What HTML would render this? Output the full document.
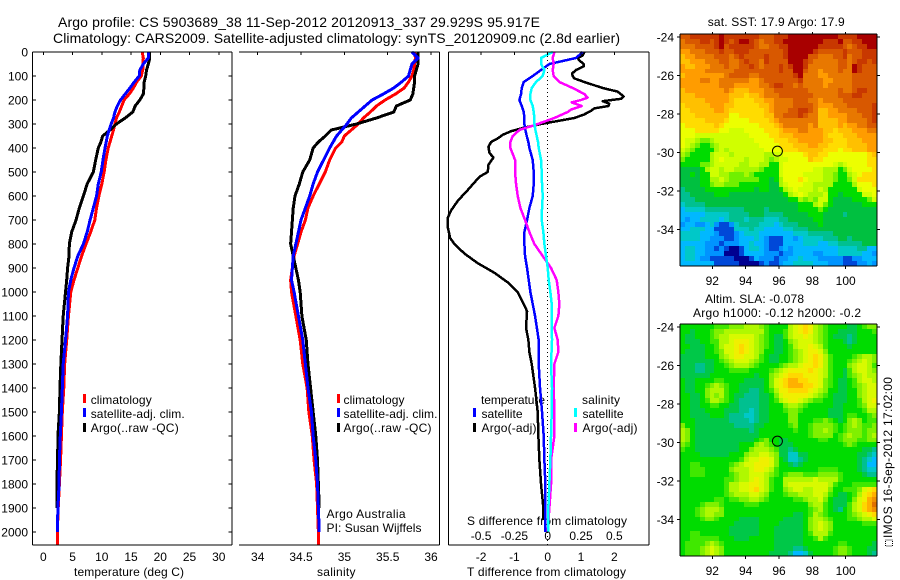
<!DOCTYPE html>
<html lang="en">
<head>
<meta charset="utf-8">
<title>Argo profile chart</title>
<style>
html,body{margin:0;padding:0;background:#fff;}
svg{display:block;}
text{font-family:"Liberation Sans",sans-serif;font-size:12px;fill:#000;}
.big{font-size:14px;}
</style>
</head>
<body>
<svg id="fig" xmlns="http://www.w3.org/2000/svg" width="900" height="580" viewBox="0 0 900 580">
<rect x="0" y="0" width="900" height="580" fill="#fff"/>
<text class="big" x="58" y="27" textLength="482" lengthAdjust="spacing">Argo profile: CS 5903689_38 11-Sep-2012 20120913_337 29.929S 95.917E</text>
<text class="big" x="53" y="43" textLength="567" lengthAdjust="spacing">Climatology: CARS2009. Satellite-adjusted climatology: synTS_20120909.nc (2.8d earlier)</text>

<text x="74" y="576" textLength="110" lengthAdjust="spacing">temperature (deg C)</text>
<text x="317" y="576" textLength="38.5" lengthAdjust="spacing">salinity</text>
<text x="467" y="576" textLength="159" lengthAdjust="spacing">T difference from climatology</text>
<text x="467" y="525" textLength="160" lengthAdjust="spacing">S difference from climatology</text>

<text x="90.7" y="404" textLength="61" lengthAdjust="spacing">climatology</text>
<text x="90.7" y="418" textLength="94" lengthAdjust="spacing">satellite-adj. clim.</text>
<text x="90.7" y="432" textLength="88" lengthAdjust="spacing">Argo(..raw -QC)</text>
<rect x="83" y="394" width="3" height="9" fill="#ff0000"/>
<rect x="83" y="408" width="3" height="9" fill="#0000ff"/>
<rect x="83" y="423" width="3" height="9" fill="#000"/>

<text x="343.5" y="404" textLength="61" lengthAdjust="spacing">climatology</text>
<text x="343.5" y="418" textLength="94" lengthAdjust="spacing">satellite-adj. clim.</text>
<text x="343.5" y="432" textLength="88" lengthAdjust="spacing">Argo(..raw -QC)</text>
<rect x="337" y="394" width="3" height="9" fill="#ff0000"/>
<rect x="337" y="408" width="3" height="9" fill="#0000ff"/>
<rect x="337" y="423" width="3" height="9" fill="#000"/>

<text x="326.5" y="518" textLength="79" lengthAdjust="spacing">Argo Australia</text>
<text x="326.5" y="532" textLength="95" lengthAdjust="spacing">PI: Susan Wijffels</text>

<text x="481" y="404" textLength="64" lengthAdjust="spacing">temperature</text>
<text x="481.5" y="418" textLength="41" lengthAdjust="spacing">satellite</text>
<text x="481.5" y="432" textLength="55" lengthAdjust="spacing">Argo(-adj)</text>
<rect x="473" y="408" width="3" height="9" fill="#0000ff"/>
<rect x="473" y="423" width="3" height="9" fill="#000"/>
<text x="582" y="404" textLength="38" lengthAdjust="spacing">salinity</text>
<text x="582.5" y="418" textLength="41" lengthAdjust="spacing">satellite</text>
<text x="582.5" y="432" textLength="55" lengthAdjust="spacing">Argo(-adj)</text>
<rect x="574" y="408" width="3" height="9" fill="#00ffff"/>
<rect x="574" y="423" width="3" height="9" fill="#ff00ff"/>

<text x="707.7" y="26" textLength="137" lengthAdjust="spacing">sat. SST: 17.9 Argo: 17.9</text>
<text x="705" y="303" textLength="99" lengthAdjust="spacing">Altim. SLA: -0.078</text>
<text x="693" y="317" textLength="168" lengthAdjust="spacing">Argo h1000: -0.12 h2000: -0.2</text>

<text transform="translate(892,538) rotate(-90)" textLength="161" lengthAdjust="spacing">IMOS 16-Sep-2012 17:02:00</text>
<rect x="885.5" y="540" width="7" height="6" fill="none" stroke="#000" stroke-width="1" stroke-dasharray="1 1"/>
</svg>

<script>
// ---------- Depth levels (m) ----------
const profileDepths = [0,25,50,75,100,125,150,175,200,225,250,275,300,325,350,375,400,450,500,550,600,650,700,750,800,850,900,950,1000,1100,1200,1300,1400,1500,1600,1700,1800,1900,2000,2054];
const diffDepths = [0,25,50,75,100,125,150,175,200,225,250,275,300,325,350,375,400,450,500,550,600,650,700,750,800,850,900,950,1000,1050,1100,1200,1300,1400,1500,1600,1700,1800,1900,2000];
const diffArgoSDepths = [0,25,50,75,100,125,150,175,190,200,210,225,240,250,275,300,325,350,375,400,425,450,500,550,600,650,700,750,800,850,900,950,1000,1050,1100,1150,1200,1250,1300,1400,1500,1600,1700,1800,1900,2000];
const diffArgoTDepths = [0,15,25,35,50,60,75,90,100,110,125,150,165,185,195,205,215,225,235,245,260,275,290,300,315,330,345,360,375,395,420,440,470,500,520,575,620,660,690,730,775,800,840,880,920,960,1000,1050,1080,1100,1150,1200,1250,1300,1400,1500,1600,1700,1800,1900,1950];

// ---------- Temperature profiles (deg C) ----------
const tempClimatology = [16.9,17.1,17.0,17.0,16.75,15.95,15.4,14.7,13.8,13.4,13.0,12.5,12.25,12.0,11.7,11.4,11.1,10.7,10.4,10.0,9.5,9.1,8.8,8.1,7.3,6.55,5.9,5.25,4.7,4.3,4.0,3.65,3.5,3.25,3.1,2.95,2.75,2.55,2.4,2.4];
const tempSatellite = [17.95,17.95,17.1,16.5,16.4,15.55,14.8,14.0,13.2,12.65,12.25,12.0,11.6,11.25,10.95,10.75,10.55,10.2,9.9,9.4,9.1,8.55,8.0,7.5,6.85,5.9,5.25,4.7,4.3,4.15,3.8,3.4,3.25,3.1,2.9,2.75,2.7,2.5,2.4];
const tempArgo = [18.1,18.2,17.95,17.65,17.5,17.25,17.2,17.1,16.5,15.7,15.3,14.0,12.5,11.4,10.15,9.85,9.4,8.95,8.55,7.5,6.85,6.15,5.6,4.85,4.45,4.4,4.15,4.0,3.8,3.4,3.2,3.0,2.85,2.75,2.5,2.45,2.3,2.3];

// ---------- Salinity profiles ----------
const salClimatology = [35.81,35.82,35.81,35.8,35.78,35.74,35.69,35.59,35.47,35.37,35.3,35.22,35.16,35.08,35.0,34.97,34.9,34.83,34.78,34.71,34.64,34.58,34.55,34.5,34.46,34.42,34.4,34.38,34.39,34.44,34.49,34.52,34.57,34.59,34.63,34.65,34.68,34.69,34.7,34.7];
const salSatellite = [35.78,35.85,35.78,35.76,35.74,35.66,35.57,35.45,35.32,35.24,35.16,35.08,35.03,34.97,34.91,34.87,34.83,34.76,34.69,34.64,34.6,34.55,34.5,34.47,34.44,34.41,34.4,34.39,34.42,34.47,34.52,34.55,34.58,34.62,34.64,34.67,34.69,34.7,34.71];
const salArgo = [35.85,35.85,35.85,35.83,35.81,35.81,35.8,35.79,35.76,35.6,35.57,35.37,35.14,34.85,34.78,34.7,34.64,34.6,34.52,34.48,34.43,34.41,34.4,34.39,34.38,34.41,34.44,34.47,34.49,34.51,34.56,34.58,34.61,34.64,34.67,34.69,34.7,34.71];

// ---------- Difference from climatology ----------
const diffTSatellite = [1.05,.85,.05,-.2,-.45,-.72,-.78,-.8,-.85,-.78,-.72,-.7,-.7,-.67,-.63,-.58,-.55,-.45,-.42,-.42,-.45,-.55,-.62,-.7,-.7,-.68,-.62,-.57,-.52,-.45,-.38,-.27,-.27,-.23,-.17,-.12,-.1,-.07,-.07,-.07];
const diffSSatellite = [.0375,-.05,-.05,-.025,-.0375,-.0875,-.12,-.13,-.13,-.1125,-.105,-.1,-.1,-.0925,-.0825,-.0725,-.0675,-.05,-.045,-.0425,-.0375,-.0425,-.045,-.0325,-.025,-.0125,0,.0075,.02,.03,.03,.0325,.025,.0325,.03,.025,.02,.0125,.005,.005];
const diffSArgo = [.05,.0375,.045,.0375,.045,.0875,.1875,.275,.3,.25,.18,.255,.175,.15,.05,-.075,-.2125,-.2625,-.28,-.28,-.2625,-.245,-.245,-.2375,-.225,-.205,-.17,-.1375,-.1,-.0375,.025,.0675,.08,.0875,.08,.05,.075,.08,.05,.045,.05,.05,.025,.025,.0125,0];
const diffTArgo = [1.1,1.05,.9,.95,1.08,1.08,.85,.73,.75,.8,1.1,1.65,2.1,2.28,2.2,1.65,1.85,1.82,1.4,1.3,1.1,.8,.2,-.2,-.7,-1.1,-1.35,-1.5,-1.7,-1.78,-1.75,-1.63,-1.78,-1.8,-2.05,-2.4,-2.7,-2.9,-3.0,-3.0,-2.93,-2.8,-2.5,-2.1,-1.6,-1.2,-.9,-.72,-.62,-.63,-.65,-.58,-.55,-.48,-.38,-.3,-.28,-.25,-.2,-.13,-.13];

// ---------- Tick labels ----------
const depthTicks = [0,100,200,300,400,500,600,700,800,900,1000,1100,1200,1300,1400,1500,1600,1700,1800,1900,2000];
const tempTicks = [0,5,10,15,20,25,30];
const salTicks = [34,34.5,35,35.5,36];
const diffTTicks = [-2,-1,0,1,2];
const diffSTicks = [-0.5,-0.25,0,0.25,0.5];
const lonTicks = [92,94,96,98,100];
const latTicks = [-24,-26,-28,-30,-32,-34];

// ---------- Argo position ----------
const argoLon = 95.917;
const argoLat = -29.929;

// ---------- Colour levels for the maps ----------
const sstColours = ['#000090','#0048d8','#0094ff','#00b8ff','#00c8c8','#00c090','#00c040','#00dc00','#70f000','#a8f800','#d0ff00','#ecff00','#ffdc00','#ffc000','#ff9c00','#e87800','#d85800','#c83800','#a80000'];
const slaColours = ['#000090','#0048d8','#0094ff','#00b8ff','#00c8c8','#00c090','#00c848','#00dc00','#40e800','#80f000','#b0f800','#d8fa00','#f0f000','#ffd800','#ffb000','#f09000','#e07000','#c83800','#a80000'];

// ---------- SST map (colour level per cell, north to south) ----------
const sstGrid = [
[16,16,17,17,17,17,17,17,18,17,17,17,17,17,17,17,16,16,16,17,17,17,18,18,18,18,18,18,18,18,18,18,17,17,17,17,18,18,18,18],
[15,16,16,16,17,17,16,17,18,17,16,17,18,18,17,16,15,16,16,17,17,18,18,18,18,18,18,18,18,17,17,17,18,16,16,17,17,18,18,18],
[15,15,15,16,16,16,16,17,18,16,17,17,17,17,17,16,15,15,16,16,17,17,18,18,18,18,18,18,17,17,17,17,17,16,15,16,17,17,18,18],
[14,14,15,15,15,16,16,16,17,16,16,17,17,17,16,16,16,16,16,16,16,17,18,18,18,18,18,17,16,16,16,16,16,17,16,16,16,17,17,17],
[13,14,14,15,15,15,15,16,16,16,15,16,17,16,16,16,16,17,16,16,16,17,18,18,18,18,16,16,15,15,15,16,16,17,15,16,16,17,17,17],
[13,13,14,14,14,15,15,15,16,16,15,15,16,17,16,16,15,17,16,16,16,16,18,18,18,17,16,15,15,15,15,15,16,16,15,16,17,17,16,17],
[14,13,13,14,14,14,15,15,15,16,15,15,16,16,17,16,15,16,16,16,17,16,17,18,18,17,15,15,15,15,15,15,16,16,15,18,17,16,16,16],
[14,14,14,14,14,15,15,15,15,15,15,16,16,16,16,16,16,16,16,16,17,16,16,18,18,16,15,15,14,15,15,15,16,15,15,18,17,16,16,16],
[13,14,14,14,14,14,14,14,14,15,16,16,16,16,15,15,16,16,16,16,16,16,16,17,18,15,15,15,14,14,15,15,15,15,15,16,16,16,16,16],
[14,14,14,14,15,15,14,14,15,15,15,15,15,15,14,14,15,16,16,16,16,16,16,16,17,15,15,15,15,14,14,15,15,15,15,16,16,16,16,16],
[14,14,14,14,14,14,14,14,15,15,15,14,14,14,14,14,15,15,16,17,17,16,16,15,16,15,15,15,15,14,15,15,15,15,15,16,16,16,16,16],
[13,14,14,14,14,14,14,14,14,15,14,13,13,13,14,14,14,15,15,16,16,16,16,16,16,16,15,15,15,15,15,15,16,15,15,16,17,17,16,16],
[13,13,13,14,14,14,14,14,14,14,13,13,13,12,13,13,14,15,15,15,16,16,16,16,16,16,16,15,15,15,15,15,16,16,16,17,17,16,16,16],
[13,13,13,13,13,14,14,14,14,14,13,12,12,12,12,13,13,14,14,15,15,15,15,16,16,16,15,15,14,15,15,15,15,16,16,16,16,16,16,16],
[12,13,13,13,13,13,14,14,14,13,13,12,12,12,12,12,13,13,14,15,15,15,15,16,16,16,16,15,14,14,14,15,15,15,16,16,16,16,16,17],
[12,12,13,13,13,13,13,14,14,13,12,12,12,12,12,12,12,13,14,15,15,15,16,16,17,17,16,15,13,13,14,14,15,15,15,15,16,16,16,17],
[12,12,12,13,13,13,13,13,13,13,11,11,12,12,12,12,12,13,13,15,15,16,16,16,17,16,15,15,13,13,14,14,14,14,15,15,15,16,16,17],
[12,12,12,12,12,13,13,13,13,12,11,11,11,11,12,12,12,12,13,14,15,15,15,15,15,15,15,15,13,13,13,13,14,14,15,15,15,15,16,17],
[11,12,12,12,12,12,12,13,12,11,11,11,11,11,11,11,12,12,12,13,14,15,15,15,15,15,14,15,13,13,13,13,14,13,14,14,15,15,16,16],
[11,11,11,12,12,12,12,12,11,11,10,10,10,11,11,11,11,12,12,12,13,14,14,14,15,15,14,14,14,13,13,12,13,13,13,14,14,14,15,15],
[11,11,11,10,10,10,10,10,10,10,10,10,10,10,11,11,11,11,12,12,13,13,13,14,14,14,14,14,14,13,12,12,12,13,13,13,14,14,14,14],
[11,10,10,9,8,8,9,10,10,10,10,10,10,10,10,11,11,11,11,12,12,12,13,13,14,14,14,14,14,13,13,12,12,12,13,13,13,14,14,14],
[11,10,9,8,7,7,8,9,10,10,10,10,10,10,10,10,11,11,11,11,12,12,12,13,13,13,14,14,13,13,12,12,12,12,13,13,13,13,14,14],
[10,9,8,7,7,7,7,9,10,9,10,10,10,10,10,10,10,11,11,11,11,12,12,12,13,13,13,13,13,12,12,12,11,12,12,13,13,13,14,14],
[9,8,7,7,7,7,9,10,10,10,9,10,10,10,10,10,10,9,9,10,10,11,11,11,11,12,13,13,12,12,11,11,11,11,11,11,11,11,12,13],
[8,7,7,7,7,7,9,10,11,10,10,10,10,9,10,10,10,9,8,9,10,10,11,11,11,11,13,12,12,11,11,11,11,11,11,11,11,11,12,12],
[7,7,7,7,8,8,9,10,10,10,10,10,9,9,10,10,9,9,7,7,10,11,11,11,11,11,11,11,11,11,11,10,9,10,11,11,11,11,12,12],
[6,6,6,6,7,9,10,10,9,10,10,9,9,9,9,9,8,7,7,7,10,11,11,11,11,11,11,10,10,9,9,9,7,8,10,11,11,11,11,12],
[6,6,7,6,7,7,10,10,9,9,8,8,8,9,8,7,7,7,7,7,10,11,11,11,11,10,10,10,10,9,9,8,7,7,9,10,11,12,12,12],
[6,6,6,6,7,7,9,9,10,9,8,8,8,8,8,8,7,7,6,7,9,11,11,11,12,11,10,10,10,9,9,8,7,7,8,10,12,12,12,12],
[6,6,6,6,7,7,8,9,9,8,8,8,7,7,7,7,7,7,6,6,9,10,11,11,11,10,10,9,9,9,9,7,7,7,7,9,11,11,11,12],
[5,6,6,6,6,7,7,7,7,7,7,7,7,7,7,6,7,7,6,6,7,9,10,11,10,10,10,9,10,9,7,7,7,7,7,7,10,11,11,11],
[5,5,6,6,6,6,6,7,7,7,6,6,6,6,6,6,6,6,6,6,6,7,9,10,11,10,9,9,9,10,7,7,6,7,7,7,7,10,10,11],
[5,5,5,6,6,6,6,6,6,6,6,6,6,6,6,6,6,6,6,6,6,6,7,7,9,8,9,8,10,10,7,6,6,6,6,7,7,7,8,10],
[4,5,5,5,5,6,6,6,6,6,6,6,6,6,6,6,6,6,6,6,6,6,6,6,7,7,7,9,10,8,7,6,6,6,6,6,6,7,7,7],
[3,4,4,4,4,5,5,5,5,5,5,5,5,6,6,6,6,5,6,6,6,6,6,6,7,7,7,7,8,7,6,6,6,6,6,6,6,6,6,6],
[3,3,3,3,3,4,4,4,4,4,5,5,5,5,6,6,6,5,5,5,5,6,6,6,6,6,7,7,7,6,6,6,6,5,6,6,6,6,6,6],
[3,2,3,3,4,4,4,4,3,4,5,5,5,4,5,5,5,4,4,4,5,5,6,6,6,6,6,7,7,6,6,6,6,6,6,6,6,6,6,6],
[2,3,3,2,2,3,4,2,1,1,2,4,5,5,5,5,4,4,4,3,4,5,5,5,6,6,6,6,7,6,6,6,6,6,6,6,6,6,6,6],
[3,3,4,4,4,3,3,1,1,1,1,4,4,4,5,4,4,3,3,3,3,4,4,5,5,5,6,6,6,6,6,6,6,6,6,6,6,6,6,6],
[4,4,4,4,3,3,3,2,1,1,1,2,3,4,4,4,3,3,3,3,3,3,3,4,4,4,5,5,5,5,5,6,6,6,6,6,6,6,6,6],
[4,4,4,4,3,3,2,2,2,1,1,2,3,3,3,4,3,2,1,1,1,3,3,2,3,4,4,4,4,5,5,5,6,6,5,6,6,6,6,6],
[3,3,3,3,3,2,2,2,1,2,2,2,3,3,4,3,3,2,1,1,1,3,3,3,3,4,4,4,3,3,4,4,5,5,5,5,5,6,6,6],
[3,4,4,3,3,2,2,1,2,1,0,0,1,3,4,4,3,2,1,1,2,3,2,3,3,3,3,3,3,3,3,3,4,4,4,4,5,5,3,3],
[3,4,4,3,3,2,2,2,2,0,0,0,1,3,3,3,3,2,2,2,1,2,2,3,3,3,3,2,2,3,3,3,4,4,4,4,4,3,3,2],
[3,4,4,3,2,2,1,1,1,1,1,0,0,0,1,3,2,2,2,1,2,2,3,3,4,3,3,3,2,2,2,2,2,1,1,2,2,3,3,3],
[3,3,3,3,3,3,3,1,1,1,1,1,0,0,0,0,1,2,1,1,2,3,3,4,4,4,4,3,3,3,2,2,2,1,1,1,2,2,3,2]
];

// ---------- Sea level anomaly map (colour level per cell, north to south) ----------
const slaGrid = [
[7,7,7,7,7,7,7,8,8,8,9,9,9,10,10,10,9,8,7,7,7,7,10,11,12,13,12,10,9,8,7,7,7,7,6,6,7,8,9,9],
[7,7,6,7,7,7,8,9,9,10,10,10,10,10,10,10,10,8,7,7,7,8,10,11,12,13,12,10,9,8,7,7,6,6,6,6,7,7,7,8],
[7,6,6,7,7,7,8,9,10,10,11,11,11,11,11,10,9,8,7,6,6,8,10,11,11,12,11,10,9,8,7,6,6,6,5,6,7,7,7,7],
[7,6,6,6,7,7,8,8,10,10,11,12,12,12,11,10,9,8,7,6,6,7,9,10,11,11,11,10,9,8,7,7,7,6,5,6,7,7,7,7],
[7,7,6,6,6,7,7,8,10,11,11,12,13,12,11,10,9,8,7,6,6,7,8,10,11,11,12,11,10,8,7,7,7,7,6,7,7,7,7,7],
[7,6,6,6,6,7,7,8,9,11,11,12,13,12,11,10,9,7,7,6,6,7,8,9,10,11,12,12,11,9,7,7,7,7,7,7,7,7,7,7],
[6,6,6,6,6,7,7,7,9,10,11,12,12,11,11,10,8,7,6,6,7,7,8,9,10,11,12,13,12,10,8,7,7,7,7,8,9,10,10,9],
[6,6,6,6,6,6,6,7,8,9,10,11,11,11,10,9,8,7,6,6,7,7,8,9,10,11,12,13,12,10,8,7,7,7,8,9,10,11,10,9],
[6,6,6,5,5,6,6,7,7,8,9,10,10,10,9,8,7,7,7,7,8,9,10,10,11,12,12,13,12,10,8,7,7,7,9,10,11,11,10,8],
[6,6,6,5,5,6,6,7,7,7,8,8,8,8,7,7,7,7,8,9,10,11,12,12,12,12,13,12,11,10,8,7,7,6,8,10,11,11,10,9],
[6,6,6,6,6,6,7,7,7,7,7,7,7,7,7,6,7,7,9,10,11,12,13,13,13,12,12,12,11,10,8,7,7,6,8,9,10,11,10,10],
[7,6,6,7,7,7,7,8,8,7,7,7,7,6,6,6,6,7,9,11,12,13,14,14,13,13,12,12,11,9,8,7,6,6,7,8,10,11,11,10],
[7,6,6,7,7,8,9,10,9,8,7,7,6,6,6,6,6,7,9,11,12,13,14,14,14,13,13,12,11,9,8,7,6,6,7,8,9,10,11,11],
[7,6,6,7,7,9,10,10,10,8,7,7,6,6,5,5,6,7,8,10,12,12,13,13,13,13,12,11,10,9,7,7,6,6,7,7,9,10,11,11],
[7,7,6,6,7,9,10,9,10,8,7,6,6,5,5,5,6,6,7,9,11,12,12,12,12,12,11,10,9,8,7,6,6,6,7,7,9,10,11,11],
[7,7,6,6,7,8,10,10,9,8,7,6,5,5,5,5,6,6,7,8,10,11,12,12,11,10,9,8,8,7,7,6,6,6,7,7,8,10,11,12],
[7,7,6,6,7,7,8,8,7,7,6,6,5,5,5,5,6,6,7,7,7,9,10,10,9,8,7,7,7,7,7,6,6,7,7,7,8,9,11,11],
[7,7,6,6,6,7,7,7,7,6,6,6,5,5,4,5,6,6,7,7,7,8,9,9,8,7,7,7,7,7,6,6,6,7,7,7,7,8,10,10],
[7,7,6,6,6,6,7,7,7,6,5,5,5,4,4,5,6,6,7,7,7,7,9,9,7,7,7,7,7,7,6,6,6,7,8,8,7,7,8,9],
[7,7,7,6,6,6,6,6,6,6,5,5,5,5,4,5,6,6,7,7,7,7,9,9,7,7,7,8,8,9,8,7,6,7,9,10,9,7,8,8],
[9,7,7,6,6,6,6,6,6,6,6,5,5,5,5,6,6,7,7,7,7,7,8,9,7,7,8,9,9,9,9,8,7,8,9,10,9,8,8,9],
[10,9,7,6,6,6,6,6,6,6,6,6,6,6,5,6,7,7,7,7,7,7,7,8,7,7,8,9,9,10,9,8,7,8,9,9,9,8,9,9],
[10,9,7,6,6,6,6,6,6,6,6,6,6,6,6,6,7,7,7,7,7,7,7,7,7,7,8,9,9,9,9,7,8,9,10,9,9,8,9,10],
[10,9,7,6,6,6,6,6,6,6,6,6,6,6,6,7,8,9,7,7,6,6,7,7,7,7,7,7,8,8,7,7,8,9,9,9,8,8,9,9],
[9,8,7,6,6,6,6,6,6,6,6,6,7,7,7,9,10,9,8,7,6,6,6,7,7,7,7,7,7,7,7,7,7,8,9,8,7,7,7,7],
[8,7,7,6,6,6,6,6,6,6,6,6,7,7,9,10,10,10,9,8,6,6,5,6,7,7,7,7,7,7,7,7,7,7,7,7,7,6,6,5],
[7,7,7,7,6,6,6,6,6,6,7,7,7,9,10,10,11,11,10,9,6,6,4,4,6,6,7,7,7,7,7,7,7,7,7,7,6,6,5,4],
[7,7,7,7,7,7,7,7,7,7,7,7,8,10,11,11,12,12,11,9,7,6,4,4,5,6,7,7,7,7,7,7,7,7,7,7,6,5,4,3],
[7,7,8,8,7,7,7,7,7,7,8,9,10,11,11,12,12,12,11,9,7,7,6,5,6,7,7,7,7,7,7,7,7,7,7,7,6,5,3,3],
[7,7,8,8,8,7,7,7,7,7,9,10,10,10,11,12,12,11,10,8,7,7,7,7,7,7,7,7,8,8,8,8,7,7,7,7,6,5,4,4],
[7,7,8,8,8,7,7,7,7,7,8,9,10,10,11,11,11,10,9,8,7,8,9,9,9,8,8,8,9,9,9,9,8,7,7,7,7,6,5,5],
[7,7,7,7,7,7,7,7,7,8,8,9,10,10,11,12,11,10,8,7,7,10,10,10,10,10,10,11,10,10,10,10,8,7,7,7,7,7,7,7],
[7,7,7,7,7,7,7,7,7,8,10,10,11,11,12,12,11,10,8,7,7,10,11,11,11,11,11,11,11,11,10,8,7,7,7,8,8,8,8,8],
[7,7,7,7,7,7,7,7,7,8,10,10,11,11,12,13,11,10,8,7,7,9,10,11,11,10,10,11,11,11,9,7,7,8,8,8,9,11,12,13],
[7,7,7,7,7,7,7,7,7,8,9,10,10,10,11,11,10,9,7,7,7,8,9,9,10,10,10,11,11,10,8,7,6,6,7,8,10,12,13,14],
[7,7,7,7,7,7,7,8,8,7,8,8,9,9,10,10,9,8,7,7,7,7,7,8,8,9,10,10,11,9,7,6,6,6,7,9,11,12,14,15],
[7,7,7,7,8,9,9,9,8,7,7,7,7,8,8,8,7,7,7,7,7,7,7,7,7,7,9,10,10,8,7,6,6,6,8,10,11,13,14,16],
[7,7,7,8,9,10,10,10,9,7,7,7,7,7,7,7,7,7,7,7,7,7,7,7,7,7,8,9,10,8,7,6,5,7,8,10,11,13,14,15],
[7,7,7,8,9,10,10,9,9,7,7,7,7,7,7,7,7,7,7,7,7,7,7,6,6,7,8,10,9,8,7,7,7,7,8,9,10,11,12,13],
[7,7,7,7,8,9,9,8,7,7,7,7,6,6,6,6,7,7,7,7,7,6,6,6,6,7,9,10,10,9,8,7,7,7,8,8,9,10,10,11],
[7,7,7,7,7,7,7,7,7,7,7,6,6,6,6,6,7,7,7,7,6,6,6,6,6,7,9,10,11,10,9,7,7,7,7,7,7,8,8,8],
[7,7,7,7,7,7,7,7,7,7,6,6,6,6,6,6,7,7,7,6,6,6,6,6,6,7,9,10,11,10,9,7,7,7,7,7,7,7,7,7],
[7,7,8,8,7,7,7,7,7,7,6,6,6,6,6,6,7,7,7,6,6,6,6,6,6,7,8,10,10,10,8,7,7,7,7,7,7,7,7,7],
[7,7,8,8,8,8,8,8,7,7,7,6,6,6,7,7,7,7,7,6,6,6,6,6,6,7,7,8,10,8,7,7,7,7,7,7,7,7,7,7],
[7,8,8,8,8,9,10,9,8,7,7,7,7,7,7,7,7,7,7,6,6,6,6,6,6,7,7,7,7,7,7,7,8,8,7,7,7,7,7,6],
[7,8,8,8,9,10,11,10,9,7,7,7,7,7,7,7,7,7,7,6,6,6,6,5,5,6,7,7,7,7,7,8,9,9,8,7,7,7,6,6],
[7,8,8,8,9,10,11,10,9,7,7,7,7,7,7,7,7,7,6,6,6,6,5,3,3,4,6,7,7,7,7,8,9,9,8,7,7,7,6,5]
];

const NS = 'http://www.w3.org/2000/svg';
const fig = document.getElementById('fig');

function shape(tag, attrs) {
  const el = document.createElementNS(NS, tag);
  for (const k in attrs) el.setAttribute(k, attrs[k]);
  fig.appendChild(el);
  return el;
}

// ---------- Axis functions ----------
const PLOT_TOP = 52, PLOT_BOTTOM = 545;
function depthY(d) { return PLOT_TOP + 0.24 * d; }
function tempX(t) { return 43.3 + 5.85 * t; }
function salX(s) { return 257.7 + 86.67 * (s - 34); }
function diffTX(t) { return 547.7 + 33.3 * t; }
function diffSX(s) { return 547.7 + 133.2 * s; }

function lonX(lon) { return 779 + 16.67 * (lon - 96); }
function sstLatY(lat) { return 37 - 19.25 * (lat + 24); }
function slaLatY(lat) { return 327 - 19.25 * (lat + 24); }

function frameLine(x1, y1, x2, y2, name) {
  const el = shape('line', {x1: x1, y1: y1, x2: x2, y2: y2, stroke: '#000', 'stroke-width': 1, 'shape-rendering': 'crispEdges'});
  
  
  return el;
}

function label(x, y, str, anchor, name) {
  const el = shape('text', {x: x, y: y, 'text-anchor': anchor});
  el.textContent = str;
  
  
  return el;
}

function curve(values, depths, xf, color, width, name) {
  let pts = '';
  for (let i = 0; i < values.length; i++) {
    pts += xf(values[i]).toFixed(2) + ',' + depthY(depths[i]).toFixed(2) + ' ';
  }
  const el = shape('polyline', {points: pts, fill: 'none', stroke: color, 'stroke-width': width, 'stroke-linejoin': 'round', 'shape-rendering': 'crispEdges'});
  
  
  return el;
}

// ---------- Maps ----------
function drawMap(grid, palette, left, right, top, bottom, prefix) {
  const rows = grid.length, cols = grid[0].length;
  const cw = (right - left) / cols, ch = (bottom - top) / rows;
  for (let r = 0; r < rows; r++) {
    for (let c = 0; c < cols; c++) {
      const x0 = Math.round(left + c * cw), x1 = Math.round(left + (c + 1) * cw);
      const y0 = Math.round(top + r * ch), y1 = Math.round(top + (r + 1) * ch);
      const cell = shape('rect', {x: x0, y: y0, width: x1 - x0, height: y1 - y0, fill: palette[grid[r][c]], 'shape-rendering': 'crispEdges'});
      
      
    }
  }
}

function drawMapFrame(left, right, top, bottom, latY, labelBase, prefix) {
  frameLine(left, top, right, top, prefix + '-top-border');
  frameLine(left, bottom, right, bottom, prefix + '-bottom-border');
  frameLine(left, top, left, bottom, prefix + '-left-border');
  frameLine(right, top, right, bottom, prefix + '-right-border');
  lonTicks.forEach(function (v) {
    const x = lonX(v);
    frameLine(x, bottom, x, bottom + 3, prefix + '-lon-tick-bottom');
    frameLine(x, top - 2, x, top, prefix + '-lon-tick-top');
    label(x, labelBase, String(v), 'middle', prefix + '-lon-tick-label');
  });
  latTicks.forEach(function (v) {
    const y = latY(v);
    frameLine(left - 3, y, left, y, prefix + '-lat-tick-left');
    frameLine(right, y, right + 3, y, prefix + '-lat-tick-right');
    label(left - 6, y + 4.5, String(v), 'end', prefix + '-lat-tick-label');
  });
}

function drawMarker(lon, y, prefix) {
  const m = shape('circle', {cx: lonX(lon) - 0.2, cy: y, r: 5, fill: 'none', stroke: '#000', 'stroke-width': 1});
  
  
}

drawMap(sstGrid, sstColours, 680, 877, 34, 266, 'sst-map');
drawMapFrame(680, 877, 34, 266, sstLatY, 285, 'sst-map');
drawMarker(argoLon, sstLatY(argoLat), 'sst-map');

drawMap(slaGrid, slaColours, 680, 877, 324, 556, 'sla-map');
drawMapFrame(680, 877, 324, 556, slaLatY, 575, 'sla-map');
drawMarker(argoLon, slaLatY(argoLat), 'sla-map');

// ---------- Temperature panel ----------
curve(tempClimatology, profileDepths, tempX, '#ff0000', 3, 'temperature-climatology-line');
curve(tempArgo, profileDepths, tempX, '#000000', 3, 'temperature-argo-line');
curve(tempSatellite, profileDepths, tempX, '#0000ff', 3, 'temperature-satellite-line');
frameLine(32.5, PLOT_TOP, 232, PLOT_TOP, 'temperature-panel-top-border');
frameLine(32.5, PLOT_BOTTOM, 232, PLOT_BOTTOM, 'temperature-panel-bottom-border');
frameLine(32.5, PLOT_TOP, 32.5, PLOT_BOTTOM, 'temperature-panel-left-border');
frameLine(232, PLOT_TOP, 232, PLOT_BOTTOM, 'temperature-panel-right-border');
depthTicks.forEach(function (d) {
  const y = depthY(d);
  frameLine(32.5, y, 36, y, 'depth-tick-left');
  frameLine(228.5, y, 232, y, 'depth-tick-right');
  label(28, y + 4.5, String(d), 'end', 'depth-tick-label');
});
tempTicks.forEach(function (t) {
  const x = tempX(t);
  frameLine(x, PLOT_TOP, x, PLOT_TOP + 3, 'temperature-tick');
  label(x, 561, String(t), 'middle', 'temperature-tick-label');
});

// ---------- Salinity panel ----------
curve(salClimatology, profileDepths, salX, '#ff0000', 3, 'salinity-climatology-line');
curve(salArgo, profileDepths, salX, '#000000', 3, 'salinity-argo-line');
curve(salSatellite, profileDepths, salX, '#0000ff', 3, 'salinity-satellite-line');
frameLine(239, PLOT_TOP, 439.7, PLOT_TOP, 'salinity-panel-top-border');
frameLine(239, PLOT_BOTTOM, 439.7, PLOT_BOTTOM, 'salinity-panel-bottom-border');
frameLine(439.7, PLOT_TOP, 439.7, PLOT_BOTTOM, 'salinity-panel-right-border');
salTicks.forEach(function (s) {
  const x = salX(s);
  frameLine(x, PLOT_TOP, x, PLOT_TOP + 3, 'salinity-tick');
  label(x, 561, String(s), 'middle', 'salinity-tick-label');
});

// ---------- Difference panel ----------
const zeroLine = shape('line', {x1: diffTX(0), y1: PLOT_TOP, x2: diffTX(0), y2: PLOT_BOTTOM, stroke: '#000', 'stroke-width': 1, 'stroke-dasharray': '1 3', 'shape-rendering': 'crispEdges'});


curve(diffTArgo, diffArgoTDepths, diffTX, '#000000', 2.5, 'diff-t-argo-line');
curve(diffTSatellite, diffDepths, diffTX, '#0000ff', 2.5, 'diff-t-satellite-line');
curve(diffSArgo, diffArgoSDepths, diffSX, '#ff00ff', 2.5, 'diff-s-argo-line');
curve(diffSSatellite, diffDepths, diffSX, '#00ffff', 2.5, 'diff-s-satellite-line');
frameLine(448.3, PLOT_TOP, 649, PLOT_TOP, 'difference-panel-top-border');
frameLine(448.3, PLOT_BOTTOM, 649, PLOT_BOTTOM, 'difference-panel-bottom-border');
frameLine(448.3, PLOT_TOP, 448.3, PLOT_BOTTOM, 'difference-panel-left-border');
frameLine(649, PLOT_TOP, 649, PLOT_BOTTOM, 'difference-panel-right-border');
diffTTicks.forEach(function (t) {
  const x = diffTX(t);
  frameLine(x, PLOT_TOP, x, PLOT_TOP + 3, 't-difference-tick');
  label(x, 561, String(t), 'middle', 't-difference-tick-label');
});
diffSTicks.forEach(function (s) {
  label(diffSX(s), 540, String(s), 'middle', 's-difference-tick-label');
});
</script>
</body>
</html>
